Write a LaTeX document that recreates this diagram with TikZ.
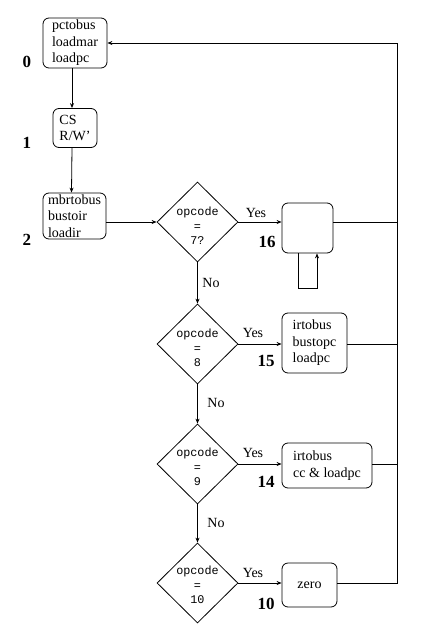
\documentclass[tikz,border=0pt]{standalone}
\usepackage{fontspec}
\setmainfont{Liberation Serif}
\newfontfamily\monof{Liberation Mono}
\usetikzlibrary{shapes.geometric,arrows.meta}
\begin{document}
\begin{tikzpicture}[x=1pt,y=-1pt,line width=0.8pt,
  box/.style={draw,rounded corners=6pt,align=left,inner sep=0pt,font=\fontsize{14}{16.5}\selectfont},
  dia/.style={draw,diamond,minimum width=81pt,minimum height=80pt,inner sep=0pt},
  dtext/.style={align=center,inner sep=0pt,font=\monof\fontsize{11.8}{14.5}\selectfont},
  num/.style={font=\bfseries\fontsize{17}{17}\selectfont},
  lab/.style={font=\fontsize{14}{16}\selectfont},
  arr/.style={-{Stealth[length=5pt,width=4pt]}},
  ]
\useasboundingbox (0,0) rectangle (425,627);
% boxes
\node[box,minimum width=64pt,minimum height=50pt] (b0) at (75,43) {pctobus\\loadmar\\loadpc};
\node[box,minimum width=44pt,minimum height=39pt] (b1) at (75,128) {CS\\R/W'};
\node[box,minimum width=63pt,minimum height=46pt] (b2) at (74.5,216) {mbrtobus\\bustoir\\loadir};
\node[box,minimum width=51pt,minimum height=50pt] (b16) at (307.5,228) {};
\node[box,minimum width=65pt,minimum height=60pt] (b15) at (314.5,343) {irtobus\\bustopc\\loadpc};
\node[box,minimum width=90pt,minimum height=45pt] (b14) at (327,465.5) {irtobus\\cc \& loadpc};
\node[box,minimum width=55pt,minimum height=44pt,align=center] (b10) at (309.5,585) {zero};
% diamonds
\node[dia] (d1) at (197.5,222) {};
\node[dia] (d2) at (197.5,344) {};
\node[dia] (d3) at (197.5,464) {};
\node[dia] (d4) at (197.5,583) {};
\node[dtext] (t1) at (197.5,226) {opcode\\=\\7?};
\node[dtext] (t2) at (197.5,348) {opcode\\=\\8};
\node[dtext] (t3) at (197.5,467) {opcode\\=\\9};
\node[dtext] (t4) at (197.5,585) {opcode\\=\\10};
% state numbers
\node[num] (n0) at (27,62) {0};
\node[num] (n1) at (27,143) {1};
\node[num] (n2) at (27,240) {2};
\node[num] (n16) at (267,242) {16};
\node[num] (n15) at (266,361) {15};
\node[num] (n14) at (266,482) {14};
\node[num] (n10) at (266,604) {10};
% labels
\node[lab] (y1) at (256,213) {Yes};
\node[lab] (y2) at (253,333) {Yes};
\node[lab] (y3) at (253,453) {Yes};
\node[lab] (y4) at (253,573) {Yes};
\node[lab] (no1) at (211,283) {No};
\node[lab] (no2) at (216,403) {No};
\node[lab] (no3) at (216,523) {No};
% connectors
\coordinate (r0) at (397,43);
\draw[arr] ([xshift=-3pt]b0.south) -- ([xshift=-3pt]b1.north);
\draw[arr] ([xshift=-3pt]b1.south) -- ([xshift=-3pt]b2.north);
\draw[arr] (b2.east |- d1.west) -- (d1.west);
\draw[arr] (d1.east) -- (d1.east -| b16.west);
\draw[arr] (d2.east) -- (d2.east -| b15.west);
\draw[arr] (d3.east) -- (d3.east -| b14.west);
\draw[arr] (d4.east) -- (d4.east -| b10.west);
\draw[arr] (d1.south) -- (d2.north);
\draw[arr] (d2.south) -- (d3.north);
\draw[arr] (d3.south) -- (d4.north);
\draw[arr] ([xshift=-9.5pt]b16.south) -- ++(0,35) -| ([xshift=9.5pt]b16.south);
\draw (b16.east |- d1.east) -- (d1.east -| r0);
\draw (b15.east |- d2.east) -- (d2.east -| r0);
\draw (b14.east |- d3.east) -- (d3.east -| r0);
\draw[arr] (b10.east |- d4.east) -- (d4.east -| r0) -- (r0) -- (b0.east);
\end{tikzpicture}
\end{document}
